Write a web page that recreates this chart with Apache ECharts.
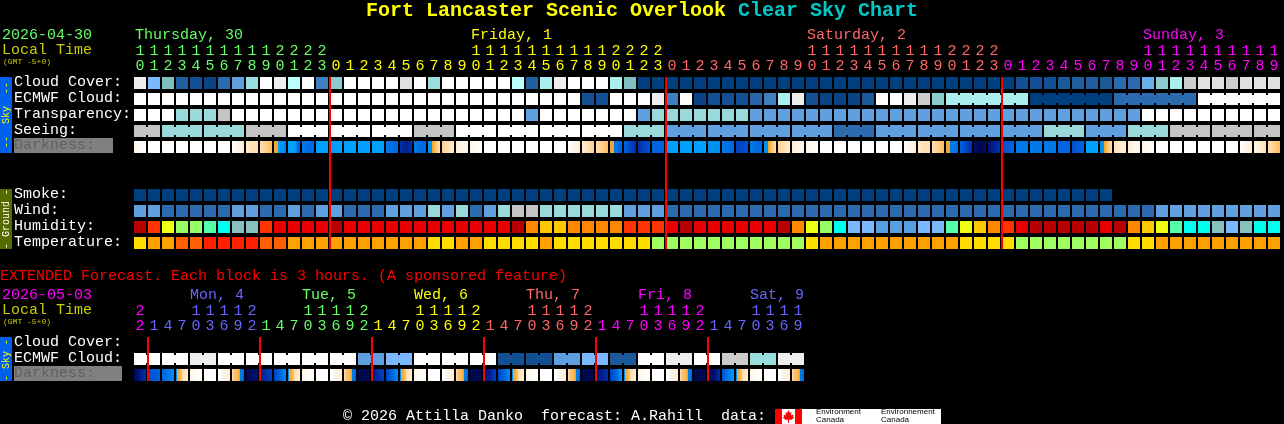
<!DOCTYPE html>
<html><head><meta charset="utf-8"><style>html,body{margin:0;padding:0;background:#000}#c{width:1284px;height:424px}</style>
<script src="https://cdn.jsdelivr.net/npm/echarts@6/dist/echarts.min.js"></script></head><body><div id="c"></div>
<script>
const rowNames=['Cloud Cover:','ECMWF Cloud:','Transparency:','Seeing:','Darkness:',' ','  ','Smoke:','Wind:','Humidity:','Temperature:'];
const extRowNames=['Cloud Cover:','ECMWF Cloud:','Darkness:'];
const hours=[10,11,12,13,14,15,16,17,18,19,20,21,22,23,0,1,2,3,4,5,6,7,8,9,10,11,12,13,14,15,16,17,18,19,20,21,22,23,0,1,2,3,4,5,6,7,8,9,10,11,12,13,14,15,16,17,18,19,20,21,22,23,0,1,2,3,4,5,6,7,8,9,10,11,12,13,14,15,16,17,18,19];
const extHours=[22,1,4,7,10,13,16,19,22,1,4,7,10,13,16,19,22,1,4,7,10,13,16,19,22,1,4,7,10,13,16,19,22,1,4,7,10,13,16,19,22,1,4,7,10,13,16,19];
const dayStarts=[0,14,38,62];
const dayColors=['#66ff66','#ffff00','#ff6666','#ff00ff'];
const extDayStarts=[0,1,9,17,25,33,41];
const extDayColors=['#ff00ff','#6666ff','#66ff66','#ffff00','#ff6666','#ff00ff','#6666ff'];
const dayLabels=['Thursday, 30','Friday, 1','Saturday, 2','Sunday, 3'];
const dayLabelCols=[0,24,48,72];
const extDayLabels=['Mon, 4','Tue, 5','Wed, 6','Thu, 7','Fri, 8','Sat, 9'];
const extDayLabelCols=[4,12,20,28,36,44];
const midnights=[14,38,62];
const extMidnights=[1,9,17,25,33,41];

const cloud=[96,60,65,20,10,5,30,50,75,100,
 96,85,100,40,70,100,100,100,100,92,
 100,75,100,100,100,100,100,85,20,80,
 96,100,100,100,80,65,0,0,0,0,
 0,0,0,0,0,0,0,0,0,0,
 0,0,0,0,0,0,0,0,0,0,
 0,0,0,10,10,10,15,20,20,15,
 30,30,55,70,80,88,92,92,88,92,
 92,92];
const ecmwf=[100,100,100,100,100,100,100,100,100,100,
 100,100,100,100,100,100,100,100,100,100,
 100,100,100,100,100,100,100,100,100,100,
 100,100,10,10,100,100,100,96,40,100,
 5,10,10,10,25,40,80,96,10,5,
 5,5,15,100,100,96,88,70,80,80,
 80,80,80,80,0,0,0,0,0,0,
 30,30,30,30,30,30,100,100,100,100,
 100,100];
const ecmwfJoined=[[58,63],[64,69],[70,75],[76,81]];
const transparency=[1,1,1,3,3,3,2,1,1,1,
 1,1,1,1,1,1,1,1,1,1,
 1,1,1,1,1,1,1,1,4,1,
 1,1,1,1,1,1,4,3,3,3,
 3,3,3,3,4,4,4,4,4,4,
 4,4,4,4,4,4,4,4,4,4,
 4,4,4,4,4,4,4,4,4,4,
 4,4,1,1,1,1,1,1,1,1,
 1,1];
const seeing=[2,2,3,3,3,3,3,3,2,2,
 2,1,1,1,1,1,1,1,1,1,
 2,2,2,1,1,1,1,1,1,1,
 1,1,1,1,1,3,3,3,4,4,
 4,4,4,4,4,4,4,4,4,4,
 5,5,5,4,4,4,4,4,4,4,
 4,4,4,4,4,3,3,3,4,4,
 4,3,3,3,2,2,2,2,2,2,
 2,2];
const seeingJoined=[[0,1],[2,4],[5,7],[8,10],[11,13],[14,16],[17,19],[20,22],[23,25],[26,28],[29,31],[32,34],[35,37],[38,40],[41,43],[44,46],[47,49],[50,52],[53,55],[56,58],[59,61],[62,64],[65,67],[68,70],[71,73],[74,76],[77,79],[80,81]];
const darkness=[[1,0],[0],[0],[0],[0],[0],[0],[0,1,2],[2,3,3],[3,4,5],
 [6,6,7,8,8,9],[7,7,7,7,10,10],[9,10],[7],[7],[7],[7],[7],[9,10],[13,14,13],
 [9,10],[8,8,6,5,4,3],[4,3,2],[2,1,1],[1,0],[0],[0],[0],[0],[0],
 [0],[0,1,2],[2,3,4],[3,4,5],[6,6,9,9,10,10],[10,11,12,13],[13,12,11],[10],[7],[7],
 [7],[8],[9,10],[12,11],[9,10],[8,8,6,5,4,3],[4,3,2],[2,1,1],[1,0],[0],
 [0],[0],[0],[0],[0],[0,1,2],[2,3,3],[3,4,5],[6,6,9,9,9,10],[10,11,12,13],
 [15,16,16,15],[15,14,13],[11,10],[9],[9],[9],[10],[11,10],[7],[8,8,6,5,4,3],
 [3,2,2],[2,1,1],[1,0],[0],[0],[0],[0],[0],[0],[0,1,2],
 [1,2,3],[3,4,5]];
const smoke=[0,0,0,0,0,0,0,0,0,0,0,0,0,0,0,0,0,0,0,0,0,0,0,0,0,0,0,0,0,0,0,0,0,0,0,0,0,0,0,0,0,0,0,0,0,0,0,0,0,0,0,0,0,0,0,0,0,0,0,0,0,0,0,0,0,0,0,0,0,0];
const wind=[16,16,9,9,9,9,9,16,16,9,
 9,16,9,16,16,9,9,9,16,16,
 16,24,16,24,9,16,24,32,32,24,
 24,24,24,24,24,16,16,16,9,9,
 9,9,9,9,9,9,9,9,9,9,
 9,9,9,9,9,9,9,9,9,9,
 9,9,9,9,9,9,9,9,9,9,
 9,9,9,16,16,16,16,16,16,16,
 16,16];
const humidity=[95,75,60,55,55,50,45,40,40,75,
 85,85,85,85,95,85,85,85,85,85,
 85,85,85,85,85,85,85,95,70,65,
 65,70,70,70,70,75,75,75,85,95,
 85,85,85,85,85,85,95,70,60,55,
 45,35,35,30,30,30,35,35,50,60,
 65,70,75,85,95,95,95,95,95,85,
 95,70,65,60,50,45,45,40,35,40,
 45,45];
const temperature=[10,15,15,20,20,25,25,25,25,20,
 20,15,15,15,15,15,15,15,15,15,
 15,10,10,15,15,10,10,10,10,15,
 10,10,10,10,10,10,10,5,5,5,
 5,5,5,5,5,5,5,5,10,15,
 15,15,15,15,15,15,15,15,15,10,
 10,10,10,5,5,5,5,5,5,5,
 5,10,10,15,15,15,15,15,15,15,
 15,15];
const extEcmwf=[100,100,100,100,96,96,100,100,100,100,100,100,100,100,100,100,50,50,60,60,100,100,100,100,100,100,10,10,10,10,50,50,60,60,15,15,100,100,96,96,100,100,88,88,75,75,96,96];
const extEcmwfJoined=[[0,1],[2,3],[4,5],[6,7],[8,9],[10,11],[12,13],[14,15],[16,17],[18,19],[20,21],[22,23],[24,25],[26,27],[28,29],[30,31],[32,33],[34,35],[36,37],[38,39],[40,41],[42,43],[44,45],[46,47]];
const extDarkness=[[16,15,14,13],[11,10],[10,9,8],[8,6,5,3,2,2],[1,0],[0],[0,1,2],[3,5,5,6,9,10],
 [16,15],[14,13,12],[12,10,8],[8,6,5,3,2,2],[1,0],[0],[0,1,2],[3,5,5,6,9,10],
 [16,16],[15,13,12],[12,10,8],[8,6,5,3,2,2],[1,0],[0],[0,1,2],[3,5,5,6,9,10],
 [16,16],[15,14,12],[12,10,8],[8,6,5,3,2,2],[1,0],[0],[0,1,2],[3,5,5,6,9,10],
 [16,16],[15,14,13],[12,10,7],[8,6,5,3,2,2],[1,0],[0],[0,1,2],[3,5,5,6,9,10],
 [16,16],[16,15,13],[11,9,7],[8,6,5,3,2,2],[1,0],[0],[0,1,2],[3,5,5,6,9,10]];

const cloudColors={0:'#003f7f',5:'#0a4487',10:'#135093',15:'#1a5a9a',20:'#1f5fa0',25:'#2766a8',30:'#2c6cae',40:'#3f7fbf',50:'#5f9fdf',55:'#6aaeee',60:'#7ab8ff',65:'#7fbfbf',70:'#8ccccc',75:'#99dddd',80:'#aaeeee',85:'#bbffff',88:'#cccccc',92:'#e0e0e0',96:'#eeeeee',100:'#ffffff'};
const skyColors={1:'#ffffff',2:'#c4c4c4',3:'#99d9d9',4:'#60a0e0',5:'#2c6cae'};
const smokeColors={0:'#003f7f'};
const windColors={9:'#2c6cae',16:'#60a0e0',24:'#99d9d9',32:'#c4c4c4'};
const humidityColors={30:'#55a0e0',35:'#7ab8ff',40:'#88c0c0',45:'#00ffee',50:'#55ffaa',55:'#99ff66',60:'#eeff11',65:'#ffc800',70:'#ff8800',75:'#ff3300',85:'#e80000',95:'#b80000'};
const temperatureColors={5:'#a0ff60',10:'#ffdd00',15:'#ffa000',20:'#ff5f00',25:'#ff2000'};
const darkRamp=['#ffffff','#fff6ea','#ffecd2','#ffe0b0','#ffd08c','#ffbc60','#f0a830','#00a0ff','#0090f0','#0078e8','#0064e0','#0050d0','#0040c0','#0030a8','#002090','#001070','#000850'];

const MONO='"Liberation Mono"';
const bg='#000000';

function darkFill(s){
  if(s.length===1) return darkRamp[s[0]];
  const stops=[];
  s.forEach((v,j)=>{
    const off=j/(s.length-1);
    if(j>0){
      const p=s[j-1];
      if((p<=6&&v>=7)||(p>=7&&v<=6)){
        const m=(j-0.5)/(s.length-1);
        stops.push({offset:m,color:darkRamp[p]},{offset:m,color:darkRamp[v]});
      }
    }
    stops.push({offset:off,color:darkRamp[v]});
  });
  return new echarts.graphic.LinearGradient(0,0,1,0,stops);
}
function buildCells(rows){
  const list=[];
  rows.forEach(r=>{
    const join={};
    (r.joined||[]).forEach(g=>{for(let k=g[0];k<g[1];k++)join[k]=1;});
    r.values.forEach((v,col)=>{
      list.push({col,row:r.row,fill:r.ramp?darkFill(v):r.colors[v],link:!!join[col]});
    });
  });
  return list;
}
function cellSeries(list,axisIdx){
  return {type:'custom',xAxisIndex:axisIdx,yAxisIndex:axisIdx,silent:true,clip:false,z:2,
    encode:{x:0,y:1},
    data:list.map((c,i)=>[c.col,c.row,i]),
    renderItem(params,api){
      const c=list[api.value(2)];
      const p=api.coord([api.value(0),api.value(1)]);
      const s=api.size([1,1]);
      const w=s[0]-2,h=s[1]-4;
      const x=p[0]-w/2,y=p[1]-h/2;
      const children=[{type:'rect',shape:{x,y,width:w,height:h},style:{fill:c.fill}}];
      if(c.link) children.push({type:'rect',shape:{x:x+w,y:y+2,width:2,height:h-4},style:{fill:c.fill}});
      return {type:'group',children};
    }};
}
function lineSeries(cols,lastRow,axisIdx){
  return {type:'custom',xAxisIndex:axisIdx,yAxisIndex:axisIdx,silent:true,clip:false,z:5,
    encode:{x:0},
    data:cols.map(c=>[c,0]),
    renderItem(params,api){
      const a=api.coord([api.value(0),0]),b=api.coord([api.value(0),lastRow]);
      const s=api.size([1,1]);
      const x=a[0]-s[0]/2+1,t=a[1]-s[1]/2+2,e=b[1]+s[1]/2-2;
      return {type:'rect',shape:{x:x-1,y:t,width:2,height:e-t},style:{fill:'#ff0000'}};
    }};
}
function hourAxis(gridIndex,data,starts,colors){
  return {type:'category',gridIndex,position:'top',data:data.map(String),
    axisLine:{show:false},axisTick:{show:false},splitLine:{show:false},
    axisLabel:{show:true,interval:0,margin:1,fontFamily:MONO,fontSize:15,lineHeight:15,
      formatter(v){const h=+v;return (h<10?' ':Math.floor(h/10))+'\n'+(h%10);},
      color(v,i){let d=0;starts.forEach((s,k)=>{if(i>=s)d=k;});return colors[d];}}};
}
function rowAxis(gridIndex,names,boxWidth){
  return {type:'category',gridIndex,inverse:true,data:names,
    axisLine:{show:false},axisTick:{show:false},splitLine:{show:false},
    axisLabel:{show:true,interval:0,margin:119,align:'left',fontFamily:MONO,fontSize:15,color:'#ffffff',padding:[0,0,2,0],
      formatter(v){return v==='Darkness:'?'{d|'+v+'}\n{s| }':v;},
      rich:{d:{color:'#606060',backgroundColor:'#808080',width:boxWidth,height:15,lineHeight:15,fontFamily:MONO,fontSize:15},
            s:{fontSize:1,lineHeight:1,height:1}}}};
}
const upper=buildCells([
 {row:0,values:cloud,colors:cloudColors},
 {row:1,values:ecmwf,colors:cloudColors,joined:ecmwfJoined},
 {row:2,values:transparency,colors:skyColors},
 {row:3,values:seeing,colors:skyColors,joined:seeingJoined},
 {row:4,values:darkness,ramp:true},
 {row:7,values:smoke,colors:smokeColors},
 {row:8,values:wind,colors:windColors},
 {row:9,values:humidity,colors:humidityColors},
 {row:10,values:temperature,colors:temperatureColors}]);
const lower=buildCells([
 {row:1,values:extEcmwf,colors:cloudColors,joined:extEcmwfJoined},
 {row:2,values:extDarkness,ramp:true}]);

function txt(text,x,y,fill,size,extra){
  return Object.assign({type:'text',x,y,silent:true,z:10,
    style:{text,fill,font:(extra&&extra.weight||'')+' '+size+'px '+MONO,align:extra&&extra.align||'left',verticalAlign:'middle'}},
    extra&&extra.rotation?{rotation:extra.rotation}:{});
}
function box(x,y,w,h,fill){return {type:'rect',silent:true,z:8,shape:{x,y,width:w,height:h},style:{fill}};}
const elements=[
 txt('2026-04-30',2,35,'#66ff66',15),
 txt('Local Time',2,50,'#cccc00',15),
 txt('(GMT -5+0)',3,62,'#cccc00',8),
 txt('EXTENDED Forecast. Each block is 3 hours. (A sponsored feature)',0,276,'#ff0000',15),
 txt('2026-05-03',2,295,'#ff00ff',15),
 txt('Local Time',2,310,'#cccc00',15),
 txt('(GMT -5+0)',3,322,'#cccc00',8),
 box(0,77,12,76,'#0060ee'),
 txt('--  Sky  --',6,115,'#ffff00',10,{rotation:Math.PI/2,align:'center'}),
 box(0,189,12,60,'#556b00'),
 txt('- Ground -',6,219,'#ffffff',10,{rotation:Math.PI/2,align:'center'}),
 box(0,337,12,44,'#0060ee'),
 txt('- Sky -',6,360,'#ffff00',10,{rotation:Math.PI/2,align:'center'}),
 txt('\u00a9 2026 Attilla Danko  forecast: A.Rahill  data:',343,416,'#ffffff',15),
 box(775,409,166,15,'#ffffff'),
 box(775,409,7,15,'#ff0000'),
 box(795,409,7,15,'#ff0000'),
 {type:'polygon',silent:true,z:9,shape:{points:[[788.5,410],[790,413],[791.5,412],[791,415.5],[793.5,414.5],[793,417],[794.5,417.5],[791,420],[789,419.5],[789,423],[788,423],[788,419.5],[786,420],[782.5,417.5],[784,417],[783.5,414.5],[786,415.5],[785.5,412],[787,413]]},style:{fill:'#ff0000'}}
];
[['Environment',816,412],['Canada',816,420],['Environnement',881,412],['Canada',881,420]].forEach(t=>{
  elements.push({type:'text',x:t[1],y:t[2],silent:true,z:10,style:{text:t[0],fill:'#000',font:'8px "Liberation Sans"',align:'left',verticalAlign:'middle'}});
});
dayLabels.forEach((t,i)=>elements.push(txt(t,134+14*dayLabelCols[i]+1,35,dayColors[i],15)));
extDayLabels.forEach((t,i)=>elements.push(txt(t,134+14*extDayLabelCols[i],295,extDayColors[i+1],15)));

const chart=echarts.init(document.getElementById('c'),null,{renderer:'canvas'});
chart.setOption({
  animation:false,backgroundColor:bg,tooltip:{show:false},
  title:{text:'{a|Fort Lancaster Scenic Overlook }{b|Clear Sky Chart}',left:'center',top:0,padding:0,
    textStyle:{rich:{a:{color:'#ffff00',fontFamily:MONO,fontSize:20,fontWeight:'bold',lineHeight:22},b:{color:'#00c8c8',fontFamily:MONO,fontSize:20,fontWeight:'bold',lineHeight:22}}}},
  grid:[{left:133,top:75,width:1148,height:176},{left:133,top:335,width:672,height:48}],
  xAxis:[hourAxis(0,hours,dayStarts,dayColors),hourAxis(1,extHours,extDayStarts,extDayColors)],
  yAxis:[rowAxis(0,rowNames,99),rowAxis(1,extRowNames,108)],
  series:[cellSeries(upper,0),lineSeries(midnights,10,0),cellSeries(lower,1),lineSeries(extMidnights,2,1)],
  graphic:{elements}
});
</script></body></html>
